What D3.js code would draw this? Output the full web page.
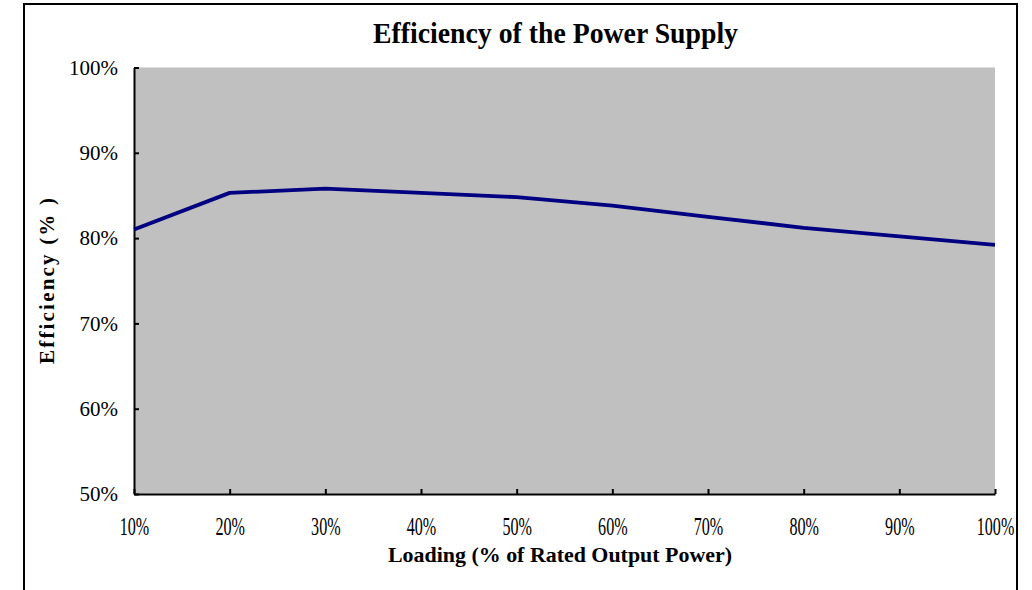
<!DOCTYPE html>
<html>
<head>
<meta charset="utf-8">
<script src="https://cdn.jsdelivr.net/npm/d3@7"></script>
<style>
  body { margin: 0; background: #fff; }
  .axis path, .axis line { stroke: #000; stroke-width: 2; }
  .axis text { font-family: "Liberation Serif", "Times New Roman", serif; fill: #000; }
</style>
</head>
<body>
<div id="chart"></div>
<script>
// Data
const loadLabels = ['10%', '20%', '30%', '40%', '50%', '60%', '70%', '80%', '90%', '100%'];
const loadValues = [10, 20, 30, 40, 50, 60, 70, 80, 90, 100];
const efficiency = [81.0, 85.3, 85.8, 85.3, 84.8, 83.8, 82.5, 81.2, 80.2, 79.2];
const yTicks = [50, 60, 70, 80, 90, 100];

const titleText = 'Efficiency of the Power Supply';
const xTitle = 'Loading (% of Rated Output Power)';
const yTitle = 'Efficiency (% )';

const width = 1032, height = 590;
const margin = { top: 67.5, left: 134, right: 37, bottom: 96 };
const innerW = width - margin.left - margin.right;
const innerH = height - margin.top - margin.bottom;

const svg = d3.select('#chart')
    .append('svg')
    .attr('width', width)
    .attr('height', height);

// outer frame
svg.append('rect')
    .attr('x', 24).attr('y', 4)
    .attr('width', 993).attr('height', 600)
    .attr('fill', '#fff')
    .attr('stroke', '#000')
    .attr('stroke-width', 2);

const g = svg.append('g')
    .attr('transform', `translate(${margin.left}, ${margin.top})`);

// scales
const xScale = d3.scaleLinear()
    .domain(d3.extent(loadValues))
    .range([0, innerW]);

const yScale = d3.scaleLinear()
    .domain([50, 100])
    .range([innerH, 0]);

// plot background
g.append('rect')
    .attr('width', innerW)
    .attr('height', innerH)
    .attr('fill', '#c0c0c0');

// axes, ticks point inside the plot
const xAxis = d3.axisBottom(xScale)
    .tickValues(loadValues)
    .tickFormat((d, i) => loadLabels[i])
    .tickSizeInner(-5)
    .tickSizeOuter(0)
    .tickPadding(23);

const yAxis = d3.axisLeft(yScale)
    .tickValues(yTicks)
    .tickFormat(d => d + '%')
    .tickSizeInner(-5)
    .tickSizeOuter(0)
    .tickPadding(16);

const xAxisGroup = g.append('g')
    .attr('class', 'axis x-axis')
    .attr('transform', `translate(0, ${innerH})`)
    .call(xAxis);

// condensed tick labels like the original
xAxisGroup.selectAll('text')
    .attr('font-size', 26)
    .attr('transform', 'scale(0.62,1)');

const yAxisGroup = g.append('g')
    .attr('class', 'axis y-axis')
    .call(yAxis);

yAxisGroup.selectAll('text')
    .attr('font-size', 21);

// the line
const line = d3.line()
    .x((d, i) => xScale(loadValues[i]))
    .y(d => yScale(d));

g.append('path')
    .datum(efficiency)
    .attr('d', line)
    .attr('fill', 'none')
    .attr('stroke', '#000080')
    .attr('stroke-width', 3.8)
    .attr('stroke-linejoin', 'round');

// titles
svg.append('text')
    .attr('x', 555.5).attr('y', 43)
    .attr('text-anchor', 'middle')
    .attr('font-family', '"Liberation Serif", "Times New Roman", serif')
    .attr('font-weight', 'bold')
    .attr('font-size', 29)
    .attr('textLength', 365)
    .attr('lengthAdjust', 'spacingAndGlyphs')
    .text(titleText);

svg.append('text')
    .attr('x', 560).attr('y', 562)
    .attr('text-anchor', 'middle')
    .attr('font-family', '"Liberation Serif", "Times New Roman", serif')
    .attr('font-weight', 'bold')
    .attr('font-size', 21)
    .attr('textLength', 344)
    .attr('lengthAdjust', 'spacingAndGlyphs')
    .text(xTitle);

svg.append('text')
    .attr('transform', 'translate(54, 281) rotate(-90)')
    .attr('text-anchor', 'middle')
    .attr('font-family', '"Liberation Serif", "Times New Roman", serif')
    .attr('font-weight', 'bold')
    .attr('font-size', 21)
    .attr('textLength', 166)
    .attr('lengthAdjust', 'spacing')
    .text(yTitle);
</script>
</body>
</html>
